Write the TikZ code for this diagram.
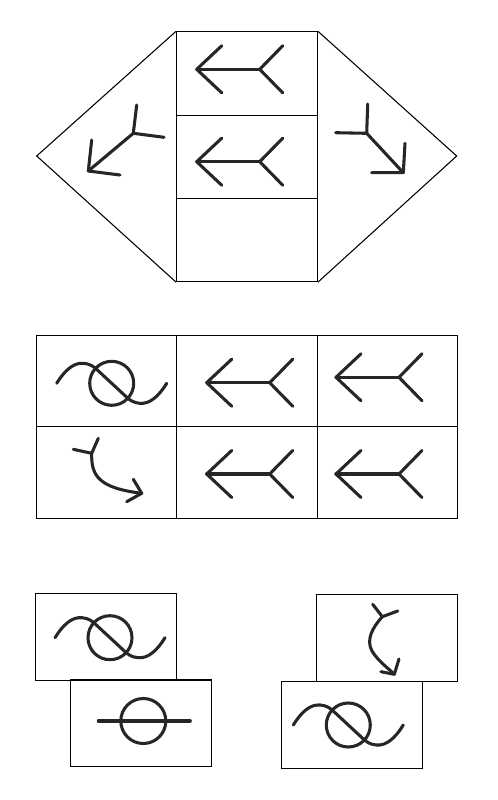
\documentclass[tikz,border=0pt]{standalone}
\usepackage{tikz}
\usetikzlibrary{positioning}

\begin{document}
\begin{tikzpicture}[x=0.75pt, y=-0.75pt,
  frame/.style={draw, line width=0.8pt, inner sep=0pt, minimum width=105.5pt},
  hexcell/.style={frame, minimum height=62.5pt},
  gridcell/.style={frame, minimum height=68.7pt},
  card/.style={frame, minimum width=106pt, minimum height=65pt},
  stroke/.style={line width=2.3pt, black!85, line cap=round, line join=round},
  dblarrow/.pic={
    \draw[stroke] (25,-23.5) -- (0,0) -- (25,23.5);
    \draw[stroke] (0,0) -- (63,0);
    \draw[stroke] (86,-23.5) -- (63,0) -- (86,23.5);
  },
  knot/.pic={
    \draw[stroke] (0,0) circle[radius=22];
    \draw[stroke] (-55,0) .. controls (-47,-13) and (-38,-21) .. (-28,-20)
      .. controls (-22,-19.5) and (-18,-17) .. (-14,-13) -- (14,13)
      .. controls (18,17) and (22,19.5) .. (28,20)
      .. controls (38,21) and (47,13) .. (55,0);
  },
  bar/.pic={
    \draw[stroke] (0,0) circle[radius=22.5];
    \draw[stroke] (-45,0) -- (47,0);
  },
]
  \useasboundingbox (0,0) rectangle (497,800);

  % Hexagon
  \node[hexcell] (h1) at (247,73.4) {};
  \node[hexcell] (h2) at (247,156.7) {};
  \node[hexcell] (h3) at (247,240) {};
  \coordinate (lv) at (36.7,156);
  \coordinate (rv) at (456.7,156);
  \draw[line width=0.8pt] (h1.north west) -- (lv) -- (h3.south west);
  \draw[line width=0.8pt] (h1.north east) -- (rv) -- (h3.south east);
  \pic at (196.7,69.3) {dblarrow};
  \pic at (196.7,161.7) {dblarrow};
  % left and right diagonal arrows
  \draw[stroke] (136.7,105) -- (133.3,133.3) -- (164,137.3);
  \draw[stroke] (133.3,133.3) -- (88.3,171);
  \draw[stroke] (91.7,140) -- (88.3,171) -- (120,175);
  \draw[stroke] (367.7,104) -- (366.7,133.3) -- (335.7,132.7);
  \draw[stroke] (366.7,133.3) -- (403.3,172.7);
  \draw[stroke] (405,143.3) -- (403.3,172.7) -- (371.7,172.7);

  % Grid
  \node[gridcell] (g11) at (106.5,381) {};
  \node[gridcell] (g12) at (247,381) {};
  \node[gridcell] (g13) at (387.5,381) {};
  \node[gridcell] (g21) at (106.5,472.5) {};
  \node[gridcell] (g22) at (247,472.5) {};
  \node[gridcell] (g23) at (387.5,472.5) {};
  \pic at (111.7,383.3) {knot};
  \pic at (206.7,382.7) {dblarrow};
  \pic at (336,377.3) {dblarrow};
  \pic at (206.7,474) {dblarrow};
  \pic at (336,474) {dblarrow};
  \draw[stroke] (98.3,438.3) -- (91.7,453.3) -- (73.3,449.3);
  \draw[stroke] (91.7,453.3) .. controls (91,476) and (99,488) .. (141.7,493.3);
  \draw[stroke] (133.3,479.3) -- (141.7,493.3) -- (126.7,501.7);

  % Answer cards
  \node[card] (a) at (105.9,637.2) {};
  \node[card] (b) at (141.2,723.3) {};
  \node[card] (c) at (386.7,638) {};
  \node[card] (d) at (351.8,724.7) {};
  \pic at (110,637.7) {knot};
  \pic at (143.3,721) {bar};
  \pic at (348.3,725) {knot};
  \draw[stroke] (372.7,604.3) -- (382.3,616.7) -- (397.7,611);
  \draw[stroke] (382.3,616.7) .. controls (372,628) and (366,640) .. (372,651)
    .. controls (378,661) and (388,668) .. (394.3,674.3);
  \draw[stroke] (399,659) -- (394.3,674.3) -- (381,671.7);
\end{tikzpicture}
\end{document}
